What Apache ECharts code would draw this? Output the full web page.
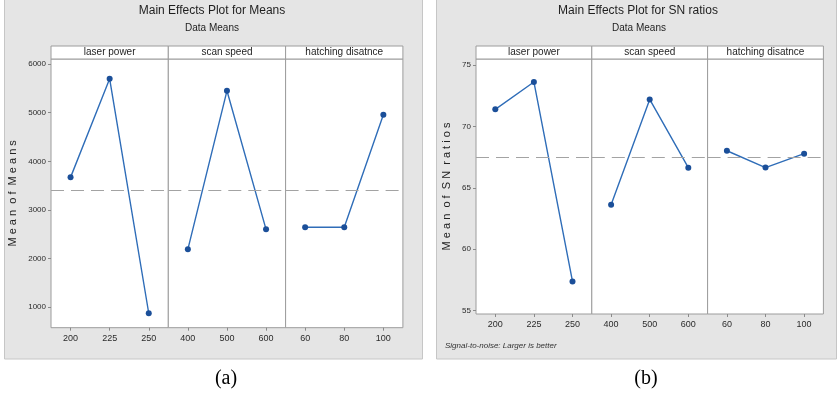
<!DOCTYPE html>
<html>
<head>
<meta charset="utf-8">
<script src="https://cdn.jsdelivr.net/npm/echarts@6/dist/echarts.min.js"></script>
<style>
  html, body { margin: 0; padding: 0; background: #ffffff; }
  #chart { width: 837px; height: 394px; }
</style>
</head>
<body>
<div id="chart"></div>
<script>
// Factor levels (x categories of each panel)
const factorNames = ['laser power', 'scan speed', 'hatching disatnce'];
const laserPowerLevels = ['200', '225', '250'];
const scanSpeedLevels = ['400', '500', '600'];
const hatchingLevels = ['60', '80', '100'];

// (a) Mean of Means per factor level
const meansLaserPower = [3671, 5698, 877];
const meansScanSpeed = [2192, 5451, 2602];
const meansHatching = [2644, 2644, 4958];

// (b) Mean of SN ratios per factor level
const snLaserPower = [71.39, 73.62, 57.38];
const snScanSpeed = [63.63, 72.20, 66.64];
const snHatching = [68.02, 66.65, 67.78];

// Y tick labels
const meansTicks = [1000, 2000, 3000, 4000, 5000, 6000];
const snTicks = [55, 60, 65, 70, 75];

const FONT = '"Liberation Sans", Arial, sans-serif';
const LINE_BLUE = '#2f6db8';
const DOT_BLUE = '#1b4f99';

const levels = [laserPowerLevels, scanSpeedLevels, hatchingLevels];
const meansData = [meansLaserPower, meansScanSpeed, meansHatching];
const snData = [snLaserPower, snScanSpeed, snHatching];

const avg = arr => arr.reduce((a, b) => a + b, 0) / arr.length;
const grandMeanMeans = avg([].concat(...meansData));
const grandMeanSN = avg([].concat(...snData));

// Layout of the two panel blocks
const blocks = [
  { left: 51, top: 59, panelW: 117.3, height: 268.7, min: 580, max: 6105, ticks: meansTicks,
    data: meansData, mean: grandMeanMeans, name: 'M e a n  o f  M e a n s', nameX: 18 },
  { left: 476, top: 59, panelW: 115.8, height: 255, min: 54.73, max: 75.49, ticks: snTicks,
    data: snData, mean: grandMeanSN, name: 'M e a n  o f  S N  r a t i o s', nameX: 452 }
];

const grid = [], xAxis = [], yAxis = [], series = [], graphic = [];

// panel backgrounds
graphic.push({ type: 'rect', z: -100, shape: { x: 4.5, y: -1, width: 418, height: 360 },
  style: { fill: '#e5e5e5', stroke: '#c6c6c6', lineWidth: 1 } });
graphic.push({ type: 'rect', z: -100, shape: { x: 436.5, y: -1, width: 400, height: 360 },
  style: { fill: '#e5e5e5', stroke: '#c6c6c6', lineWidth: 1 } });

blocks.forEach((b, bi) => {
  for (let p = 0; p < 3; p++) {
    const gi = bi * 3 + p;
    const gLeft = b.left + p * b.panelW;
    grid.push({ left: gLeft, top: b.top, width: b.panelW, height: b.height,
      show: true, backgroundColor: '#ffffff', borderColor: '#9c9c9c', borderWidth: 1 });
    xAxis.push({ type: 'category', gridIndex: gi, data: levels[p], boundaryGap: true,
      axisLine: { show: false },
      axisTick: { show: true, alignWithLabel: true, length: 3, lineStyle: { color: '#8a8a8a' } },
      axisLabel: { fontFamily: FONT, fontSize: 9, color: '#2b2b2b', margin: 6 },
      splitLine: { show: false } });
    yAxis.push({ type: 'value', gridIndex: gi, min: b.min, max: b.max,
      show: p === 0,
      name: p === 0 ? b.name : '', nameLocation: 'middle', nameRotate: 90,
      nameGap: p === 0 ? (b.left - b.nameX) : 0,
      nameTextStyle: { fontFamily: FONT, fontSize: 11, color: '#222' },
      axisLine: { show: false },
      axisTick: { show: true, length: 3, customValues: b.ticks, lineStyle: { color: '#8a8a8a' } },
      axisLabel: { customValues: b.ticks, formatter: v => String(v),
        fontFamily: FONT, fontSize: 8, color: '#2b2b2b', margin: 5 },
      splitLine: { show: false } });
    series.push({ type: 'line', xAxisIndex: gi, yAxisIndex: gi, data: b.data[p],
      symbol: 'circle', symbolSize: 6, showSymbol: true,
      lineStyle: { color: LINE_BLUE, width: 1.4 },
      itemStyle: { color: DOT_BLUE },
      markLine: { silent: true, symbol: 'none', label: { show: false },
        lineStyle: { color: '#a3a3a3', type: [13, 7], width: 1.2 },
        data: [{ yAxis: b.mean }] },
      animation: false });
    // factor header strip above the panel
    graphic.push({ type: 'rect', z: 100,
      shape: { x: gLeft, y: b.top - 13, width: b.panelW, height: 13 },
      style: { fill: '#ffffff', stroke: '#9c9c9c', lineWidth: 1 } });
    graphic.push({ type: 'text', z: 101, x: gLeft + b.panelW / 2, y: b.top - 6.5,
      style: { text: factorNames[p], fontFamily: FONT, fontSize: 10, fill: '#1e1e1e',
        align: 'center', verticalAlign: 'middle' } });
  }
});

// titles
const titles = [
  { text: 'Main Effects Plot for Means', x: 212, y: 11, size: 12 },
  { text: 'Data Means', x: 212, y: 28, size: 10 },
  { text: 'Main Effects Plot for SN ratios', x: 638, y: 11, size: 12 },
  { text: 'Data Means', x: 639, y: 28, size: 10 }
];
titles.forEach(t => graphic.push({ type: 'text', z: 101, x: t.x, y: t.y,
  style: { text: t.text, fontFamily: FONT, fontSize: t.size, fill: '#1e1e1e',
    align: 'center', verticalAlign: 'middle' } }));

graphic.push({ type: 'text', z: 101, x: 445, y: 346,
  style: { text: 'Signal-to-noise: Larger is better', fontFamily: FONT, fontSize: 8,
    fontStyle: 'italic', fill: '#333', align: 'left', verticalAlign: 'middle' } });

// sub-figure captions
graphic.push({ type: 'text', z: 101, x: 226, y: 379,
  style: { text: '(a)', fontFamily: '"Liberation Serif", "Times New Roman", serif', fontSize: 20,
    fill: '#000', align: 'center', verticalAlign: 'middle' } });
graphic.push({ type: 'text', z: 101, x: 646, y: 379,
  style: { text: '(b)', fontFamily: '"Liberation Serif", "Times New Roman", serif', fontSize: 20,
    fill: '#000', align: 'center', verticalAlign: 'middle' } });

const chart = echarts.init(document.getElementById('chart'), null, { renderer: 'canvas' });
chart.setOption({
  backgroundColor: '#ffffff',
  animation: false,
  grid, xAxis, yAxis, series, graphic
});
</script>
</body>
</html>
